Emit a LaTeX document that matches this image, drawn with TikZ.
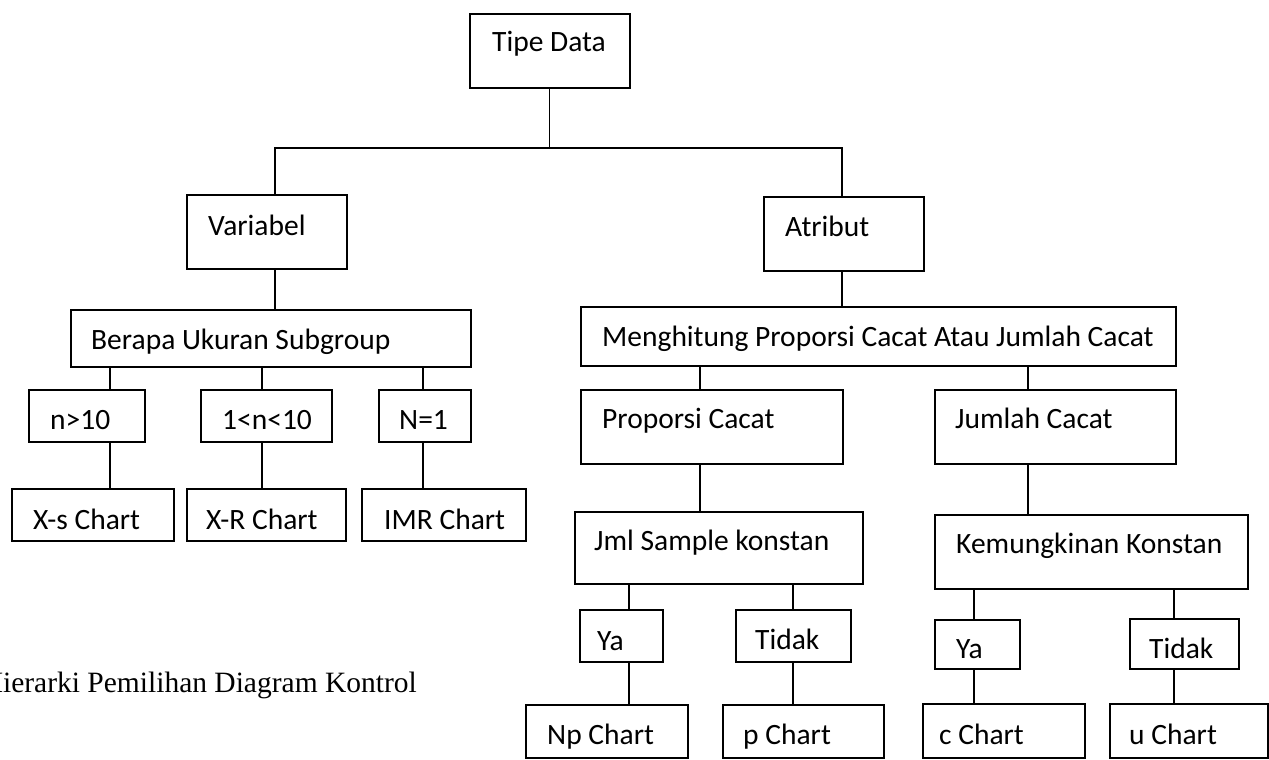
\documentclass[tikz,border=0pt]{standalone}
\usepackage{fontspec}
\setmainfont{Carlito}
\newfontfamily\capfont{Liberation Serif}
\tikzset{
	box/.style={draw, line width=1.8pt, inner sep=0pt, anchor=north west},
	lbl/.style={anchor=base west, inner sep=0pt, font=\fontsize{29.5}{34}\selectfont},
	link/.style={line width=1.1pt}
}
% name, x1, y1, x2, y2, text x, text baseline, text
\newcommand{\chartbox}[8]{%
	\node[box, minimum width={#4pt-#2pt}, minimum height={#5pt-#3pt}] (#1) at (#2,#3) {};
	\node[lbl] (#1-t) at (#6,#7) {#8};
}
\begin{document}
\begin{tikzpicture}[x=1pt, y=-1pt]
	\useasboundingbox (0,0) rectangle (1269,760);
	\chartbox{tipe}{469}{13}{629}{87}{492}{52}{Tipe Data}
	\chartbox{var}{186}{194}{346}{268}{208}{235}{Variabel}
	\chartbox{atr}{763}{196}{923}{270}{785}{236}{Atribut}
	\chartbox{ukuran}{70}{309}{470}{366}{91}{349}{Berapa Ukuran Subgroup}
	\chartbox{hitung}{580}{306}{1175}{365}{602}{346}{Menghitung Proporsi Cacat Atau Jumlah Cacat}
	\chartbox{nA}{28}{389}{144}{441}{50}{429}{n>10}
	\chartbox{nB}{200}{389}{331}{441}{222}{429}{1<n<10}
	\chartbox{nC}{378}{389}{470}{441}{399}{429}{N=1}
	\chartbox{xs}{11}{488}{173}{540}{33}{529}{X-s Chart}
	\chartbox{xr}{186}{488}{345}{540}{206}{529}{X-R Chart}
	\chartbox{imr}{361}{488}{525}{540}{384}{529}{IMR Chart}
	\chartbox{prop}{580}{389}{842}{463}{602}{428}{Proporsi Cacat}
	\chartbox{jml}{934}{389}{1175}{463}{955}{428}{Jumlah Cacat}
	\chartbox{sampel}{574}{511}{862}{583}{594}{550}{Jml Sample konstan}
	\chartbox{mungkin}{934}{514}{1247}{588}{956}{553}{Kemungkinan Konstan}
	\chartbox{yaA}{579}{609}{662}{661}{597}{650}{Ya}
	\chartbox{tdA}{735}{609}{850}{661}{755}{649}{Tidak}
	\chartbox{yaB}{934}{619}{1019}{668}{956}{658}{Ya}
	\chartbox{tdB}{1129}{618}{1238}{668}{1149}{658}{Tidak}
	\chartbox{np}{525}{704}{687}{757}{547}{744}{Np Chart}
	\chartbox{p}{722}{704}{883}{757}{743}{744}{p Chart}
	\chartbox{c}{922}{703}{1084}{757}{939}{744}{c Chart}
	\chartbox{u}{1109}{703}{1267}{757}{1129}{744}{u Chart}

	\node[anchor=base east, inner sep=0pt, font=\capfont\fontsize{29.5}{35}\selectfont] (judul) at (417,692) {Hierarki Pemilihan Diagram Kontrol};

	\coordinate (barL) at (275,148);
	\coordinate (barR) at (842,148);
	\draw[link] (tipe.south) -- (tipe.south |- barL);
	\draw[link] (var.north -| barL) -- (barL) -- (barR) -- (atr.north -| barR);
	\draw[link] (var.south -| barL) -- (ukuran.north -| barL);
	\draw[link] (atr.south -| barR) -- (hitung.north -| barR);
	\foreach \a/\b/\k in {ukuran/nA/110, ukuran/nB/262, ukuran/nC/423,
		nA/xs/110, nB/xr/262, nC/imr/423,
		hitung/prop/700, hitung/jml/1028, prop/sampel/700, jml/mungkin/1028,
		sampel/yaA/629, sampel/tdA/793, yaA/np/629, tdA/p/793,
		mungkin/yaB/974, mungkin/tdB/1174, yaB/c/974, tdB/u/1174}
		\draw[link] (\a.south -| \k,0) -- (\b.north -| \k,0);
\end{tikzpicture}
\end{document}
